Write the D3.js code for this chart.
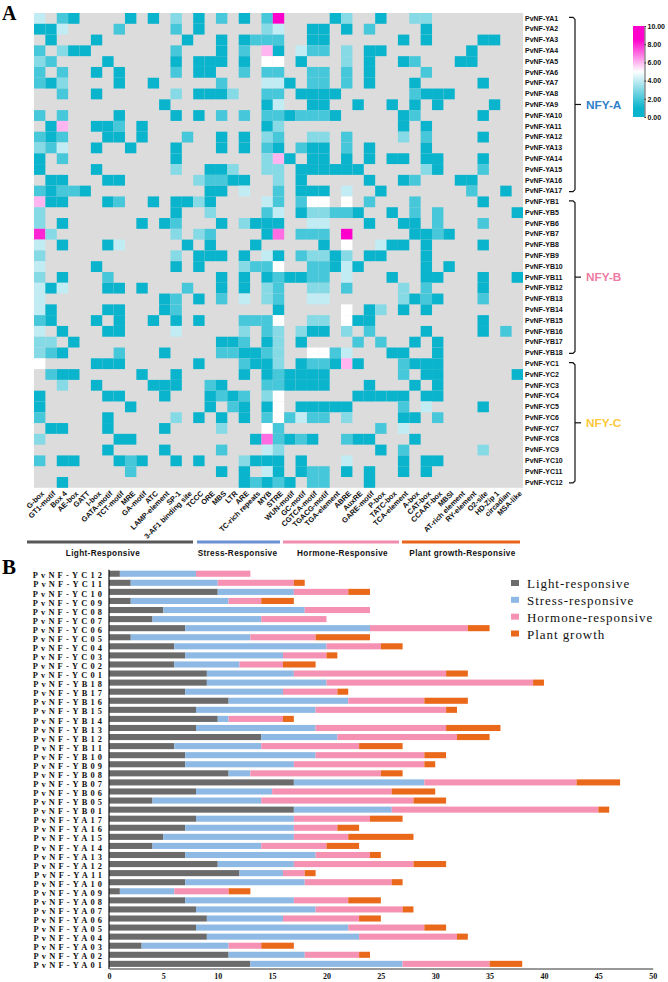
<!DOCTYPE html>
<html><head><meta charset="utf-8">
<script src="https://cdn.jsdelivr.net/npm/d3@7/dist/d3.min.js"></script>
<style>html,body{margin:0;padding:0;background:#fff}svg{display:block}</style>
</head><body><svg id="c" width="668" height="982"></svg>
<script>
const motifs = ["G-box","GT1-motif","Box 4","AE-box","GATT","I-box","GATA-motif","TCT-motif","MRE","GA-motif","ATC","LAMP-element","SP-1","3-AF1 binding site","TCCC","ORE","MBS","LTR","ARE","TC-rich repeats","MYB","STRE","WUN-motif","GC-motif","CGTCA-motif","TGACG-motif","TGA-element","ABRE","AuxRE","GARE-motif","P-box","TATC-box","TCA-element","A-box","CAT-box","CCAAT-box","MBSI","AT-rich element","RY-element","O2-site","HD-Zip 1","circadian","MSA-like"];
const heatGenes = ["YA1","YA2","YA3","YA4","YA5","YA6","YA7","YA8","YA9","YA10","YA11","YA12","YA13","YA14","YA15","YA16","YA17","YB1","YB5","YB6","YB7","YB8","YB9","YB10","YB11","YB12","YB13","YB14","YB15","YB16","YB17","YB18","YC1","YC2","YC3","YC4","YC5","YC6","YC7","YC8","YC9","YC10","YC11","YC12"].map(d=>"PvNF-"+d);
// sparse cell values per gene: {motif index: value}
const heatValues = [
{0:4,2:2,3:1,8:1,10:1,12:3,14:1,16:2,18:1,20:2,21:10,26:1,27:3,30:1,33:3,34:3},
{0:1,1:1,2:4,7:2,12:2,14:1,20:3,21:4,24:1,25:1,27:1,29:2,34:1},
{1:1,5:1,13:1,16:1,18:1,19:2,20:2,21:2,24:1,25:1,32:1,34:1,39:1,40:1},
{0:2,2:3,3:1,4:1,12:2,16:1,18:2,20:6,21:1,23:4,24:2,25:2,27:3,29:1,30:1,38:1},
{0:3,1:2,6:1,12:1,14:1,15:1,16:1,18:1,20:5,21:5,23:1,27:3,29:1,32:1,33:2,37:1,38:1},
{0:2,2:2,5:1,7:1,12:2,14:1,15:1,18:2,20:2,21:2,24:2,25:2,27:2,29:1,34:2},
{0:2,1:1,2:3,7:1,10:1,16:2,20:4,21:4,22:1,24:2,25:2,27:2,29:1,33:1,39:1},
{2:2,5:1,12:3,14:1,15:1,16:1,17:3,20:2,21:2,23:1,24:1,25:1,26:1,33:2,34:1,35:1,36:1},
{11:1,20:1,21:4,24:1,25:1,28:1,31:1,33:1,35:1,40:1},
{0:2,2:2,7:1,12:1,14:1,16:2,18:2,20:2,21:2,22:1,23:2,24:2,25:2,26:1,32:1,33:2,39:1},
{1:1,2:6,5:1,6:1,7:2,9:1,20:1,21:3,32:1,34:1},
{0:2,1:1,2:2,6:1,7:1,9:1,13:2,16:1,18:1,20:3,21:2,24:3,25:3,27:2,32:3,34:2,39:1},
{0:3,1:2,2:4,5:1,8:1,12:1,16:1,18:1,20:2,21:1,23:2,24:1,25:1,27:2,29:1,34:1},
{0:1,2:2,12:1,20:3,21:6,22:1,24:1,25:1,27:1,29:1,31:1,32:1,34:1,35:1,39:1},
{0:1,5:1,12:3,15:1,16:1,17:3,20:3,21:3,23:1,24:1,25:1,26:1,27:1,28:1,34:3,35:1,39:2},
{1:1,2:1,6:1,7:1,14:3,15:2,16:2,17:1,18:1,21:3,23:1,29:1,32:1,33:2,37:1,38:1},
{0:2,1:1,2:2,3:2,4:1,15:1,16:1,18:4,21:2,23:1,24:1,25:1,27:4,30:1,38:2,41:1},
{0:6,1:1,2:1,6:1,7:2,10:1,12:1,13:1,14:3,15:1,20:4,21:2,23:2,24:5,25:5,27:5,29:2,33:2,39:1},
{0:3,12:1,15:3,20:2,21:4,23:1,24:3,25:3,26:2,27:2,28:1,31:1,33:2,35:2,42:1},
{0:3,2:1,9:1,11:1,12:2,16:1,18:3,19:1,20:1,21:1,24:4,25:4,29:1,32:1,33:1,35:2,39:2},
{0:8,1:3,12:3,14:3,15:2,20:1,21:7,23:2,24:2,25:2,27:10,33:1,34:1,35:2,36:1},
{0:4,2:1,6:1,7:4,13:1,15:1,19:1,25:1,27:5,30:4,31:1,32:1,34:1,39:1},
{0:3,12:3,14:1,15:1,16:1,18:1,20:4,21:1,23:2,24:3,25:3,26:1,27:3,29:1,30:1,34:1},
{0:4,5:1,12:1,14:1,18:3,19:2,20:2,21:5,24:2,25:2,26:1,27:4,28:1,34:1,36:1},
{0:3,2:1,6:2,16:1,18:1,20:1,21:2,22:1,23:1,24:2,25:2,27:4,31:1,34:1,35:1,39:1,42:1},
{0:4,1:1,2:4,6:1,7:1,9:1,13:2,16:1,18:1,20:3,21:2,24:3,25:3,27:2,32:3,34:2,39:1},
{0:4,11:1,12:2,14:1,16:2,18:4,20:3,21:2,24:4,25:4,32:3,33:1,34:2,35:1,39:2},
{0:4,1:1,6:1,7:1,11:1,12:2,21:1,27:5,29:1,30:3,32:1,34:1},
{0:2,1:1,5:1,7:1,10:1,12:1,14:1,18:2,19:2,20:2,21:5,24:3,25:3,27:5,28:1,29:1,39:1},
{0:4,2:1,6:1,7:1,12:4,18:3,20:2,21:3,23:3,24:1,25:1,27:3,29:2,34:1,39:1,41:2},
{0:3,1:3,3:1,16:1,17:1,18:2,20:1,21:3,23:1,28:2,30:2,33:1,35:1},
{0:3,1:2,2:1,7:2,11:1,16:2,17:2,18:1,19:1,20:2,21:3,24:5,25:5,26:2,27:4,31:1,32:1,35:1},
{0:5,5:1,6:1,7:1,14:1,18:2,19:1,20:1,21:3,23:1,24:2,25:2,26:1,27:6,28:1,32:2,33:1,34:1,35:1},
{1:2,2:1,3:1,9:1,12:1,18:1,20:1,21:2,22:1,23:1,24:1,25:1,32:2,34:1,35:1,42:1},
{2:3,5:1,10:1,11:1,12:1,15:2,16:1,20:2,21:2,22:1,23:1,24:1,25:1,29:1,33:1,35:1},
{0:1,6:1,7:1,11:1,15:1,16:2,17:1,18:2,20:3,21:5,28:1,29:1,30:1,31:1,32:1,34:1,35:1},
{0:1,8:1,15:1,17:2,18:1,20:1,21:5,23:1,24:1,25:1,26:1,27:1,32:2,34:4,39:1},
{0:2,6:1,12:3,14:1,16:1,18:1,20:2,21:5,22:2,23:4,24:2,25:2,27:3,32:1,33:1,35:2},
{1:1,2:1,6:1,11:1,16:3,20:5,21:2,30:2,32:4},
{0:3,7:1,8:1,19:1,20:7,21:2,22:1,23:2,24:1,27:2,28:1,29:1,33:1},
{6:1,11:1,16:2,20:4,21:3,30:1,32:2,39:3},
{0:2,2:1,3:1,7:1,8:2,9:1,12:1,14:1,18:3,19:1,20:1,21:1,23:1,27:4,32:1,34:1,35:1},
{8:2,16:1,18:1,20:4,21:1,23:1,24:2,25:2,27:1,29:1,32:1,34:1},
{2:1,18:1,19:2,20:1,21:2,22:1,24:2,25:2,29:1}
];
const colorStops = [0,1,5,8.5,10];
const colorRange = ["#0ab4cd","#0ab4cd","#ffffff","#ff00cc","#ff00cc"];
const legendTicks = [0,2,4,6,8,10];

const barGenes = ["YC12","YC11","YC10","YC09","YC08","YC07","YC06","YC05","YC04","YC03","YC02","YC01","YB18","YB17","YB16","YB15","YB14","YB13","YB12","YB11","YB10","YB09","YB08","YB07","YB06","YB05","YB01","YA17","YA16","YA15","YA14","YA13","YA12","YA11","YA10","YA09","YA08","YA07","YA06","YA05","YA04","YA03","YA02","YA01"].map(d=>"PvNF-"+d);
const lightVals   = [1,2,10,2,5,4,7,2,6,7,6,9,9,7,11,8,10,8,14,6,7,7,11,17,8,4,17,8,7,5,4,7,10,12,7,1,7,8,9,8,9,3,11,13];
const stressVals  = [7,8,7,9,13,10,17,11,14,9,6,8,11,9,11,11,1,11,7,8,12,10,2,12,7,10,9,9,10,12,10,12,7,4,11,5,10,11,7,14,14,8,7,14];
const hormoneVals = [5,7,5,3,6,6,9,6,5,4,4,14,19,5,7,12,5,12,11,9,10,12,12,14,11,14,19,7,4,5,6,5,11,2,8,5,5,8,7,7,9,3,5,8];
const growthVals  = [0,1,2,3,0,0,2,5,2,1,3,2,1,1,4,1,1,5,3,4,2,1,2,4,4,3,1,3,2,6,3,1,3,1,1,2,3,1,2,2,1,3,1,3];
const barSeries = ["Light-responsive","Stress-responsive","Hormone-responsive","Plant growth"];
const barColors = ["#6b6b6b","#8db9e4","#f591b2","#e9681a"];
const barTicks = [0,5,10,15,20,25,30,35,40,45,50];

const groupNames = ["Light-Responsive","Stress-Responsive","Hormone-Responsive","Plant growth-Responsive"];
const groupColors = ["#585858","#6a8fd2","#f08cac","#e8641a"];
const familyNames = ["NFY-A","NFY-B","NFY-C"];
const familyColors = ["#2f7fc8","#f07ba2","#fcc83a"];
const familyFirst = ["PvNF-YA1","PvNF-YB1","PvNF-YC1"];
const familyLast = ["PvNF-YA17","PvNF-YB18","PvNF-YC12"];

const svg = d3.select("#c");
const SANS = "'Liberation Sans',Arial,sans-serif", SERIF = "'Liberation Serif','Times New Roman',serif";
const letter = (t,x,y,s)=>svg.append("text").attr("x",x).attr("y",y).attr("font-family",SERIF).attr("font-weight",700).attr("font-size",s).attr("fill","#000").text(t);
letter("A",2,20,20); letter("B",2,574,21);

/* ---------- heatmap ---------- */
const hx = d3.scaleBand().domain(motifs).range([34,523]);
const hy = d3.scaleBand().domain(heatGenes).range([13,487.8]);
const hcolor = d3.scaleLinear().domain(colorStops).range(colorRange).clamp(true);
const heat = svg.append("g");
heat.append("rect").attr("x",hx.range()[0]).attr("y",hy.range()[0])
  .attr("width",hx.range()[1]-hx.range()[0]).attr("height",hy.range()[1]-hy.range()[0]).attr("fill","#dcdcdc");
const cells = heatValues.flatMap((row,r)=>Object.entries(row).map(([c,v])=>({gene:heatGenes[r],motif:motifs[+c],v})));
heat.selectAll("rect.cell").data(cells).join("rect").attr("class","cell")
  .attr("x",d=>hx(d.motif)).attr("y",d=>hy(d.gene)).attr("width",hx.bandwidth()).attr("height",hy.bandwidth())
  .attr("fill",d=>hcolor(d.v));

const rowAxis = svg.append("g").attr("transform","translate(523,0)").call(d3.axisRight(hy).tickSize(0).tickPadding(2));
rowAxis.select(".domain").remove();
rowAxis.selectAll("text").attr("font-family",SANS).attr("font-weight",700).attr("font-size",7).attr("fill","#111");

const colAxis = svg.append("g").attr("transform","translate(0,488)").call(d3.axisBottom(hx).tickSize(0));
colAxis.select(".domain").remove();
colAxis.selectAll("text").attr("font-family",SANS).attr("font-weight",700).attr("font-size",7.4).attr("fill","#111")
  .attr("text-anchor","end").attr("y",0).attr("dy",0).attr("transform","translate(5,6) rotate(-45)");

/* column group bars */
const groupSpans = [[27,193],[197,280],[283,399],[402,520]];
const groupLabelX = [103,237.5,342.5,462.5];
groupNames.forEach((n,i)=>{
  svg.append("rect").attr("x",groupSpans[i][0]).attr("y",540.5).attr("width",groupSpans[i][1]-groupSpans[i][0]).attr("height",3).attr("fill",groupColors[i]);
  svg.append("text").attr("x",groupLabelX[i]).attr("y",556).attr("text-anchor","middle").attr("font-family",SANS).attr("font-weight",700)
    .attr("font-size",8.2).attr("letter-spacing",0.35).attr("fill","#111").text(n);
});

/* family brackets */
familyNames.forEach((n,i)=>{
  const y0 = hy(familyFirst[i])+hy.bandwidth()/2-1, y1 = hy(familyLast[i])+hy.bandwidth()/2+0.5, ym=(y0+y1)/2;
  svg.append("path").attr("fill","none").attr("stroke","#111").attr("stroke-width",1.2)
    .attr("d",d3.line()([[569,y0],[573,y0],[575,y0+2],[575,y1-2],[573,y1],[569,y1]]));
  svg.append("line").attr("x1",575).attr("x2",581).attr("y1",ym).attr("y2",ym).attr("stroke","#111").attr("stroke-width",1.2);
  svg.append("text").attr("x",586).attr("y",ym).attr("dy","0.36em").attr("font-family",SANS).attr("font-weight",700).attr("font-size",11.8)
    .attr("fill",familyColors[i]).text(n);
});

/* colour legend */
const ly = d3.scaleLinear().domain([0,10]).range([117,26]);
const defs = svg.append("defs");
const grad = defs.append("linearGradient").attr("id","cb").attr("x1",0).attr("x2",0).attr("y1",1).attr("y2",0);
colorStops.forEach((s,i)=>grad.append("stop").attr("offset",s/10).attr("stop-color",colorRange[i]));
svg.append("rect").attr("x",633).attr("y",ly(10)).attr("width",11.5).attr("height",ly(0)-ly(10)).attr("fill","url(#cb)");
const lAxis = svg.append("g").attr("transform","translate(644.5,0)")
  .call(d3.axisRight(ly).tickValues(legendTicks).tickFormat(d3.format(".2f")).tickSize(1.5).tickPadding(1.5));
lAxis.select(".domain").attr("stroke","#333").attr("stroke-width",0.8);
lAxis.selectAll("line").attr("stroke","#333");
lAxis.selectAll("text").attr("font-family",SANS).attr("font-weight",700).attr("font-size",7).attr("fill","#111");

/* ---------- stacked bars ---------- */
const bx = d3.scaleLinear().domain([0,50]).range([109,652.7]);
const by = d3.scaleBand().domain(barGenes).range([569.2,968.4]).paddingInner(0.33).paddingOuter(0.165);
const barRows = barGenes.map((g,i)=>({gene:g,s0:lightVals[i],s1:stressVals[i],s2:hormoneVals[i],s3:growthVals[i]}));
const stack = d3.stack().keys(["s0","s1","s2","s3"])(barRows);
svg.append("g").selectAll("g").data(stack).join("g").attr("fill",(d,i)=>barColors[i])
  .selectAll("rect").data(d=>d).join("rect")
  .attr("x",d=>bx(d[0])).attr("width",d=>bx(d[1])-bx(d[0]))
  .attr("y",d=>by(d.data.gene)).attr("height",by.bandwidth());

const bLeft = svg.append("g").attr("transform","translate(108.5,0)").call(d3.axisLeft(by).tickSize(0).tickPadding(3.3));
bLeft.select(".domain").attr("stroke","#111").attr("stroke-width",1.2);
bLeft.selectAll("text").attr("font-family",SERIF).attr("font-weight",700).attr("font-size",8.4).attr("letter-spacing",3.2)
  .attr("dy","0.55em").attr("fill","#111");
const bBottom = svg.append("g").attr("transform","translate(0,968.5)").call(d3.axisBottom(bx).tickValues(barTicks).tickSize(0).tickPadding(5));
bBottom.select(".domain").attr("stroke","#333").attr("stroke-width",1);
bBottom.selectAll("text").attr("font-family",SERIF).attr("font-weight",700).attr("font-size",8).attr("fill","#111");

/* bar legend */
const legY = d3.scalePoint().domain(barSeries).range([583,633.5]);
barSeries.forEach((n,i)=>{
  svg.append("rect").attr("x",511).attr("y",legY(n)-3).attr("width",8).attr("height",6).attr("fill",barColors[i]);
  svg.append("text").attr("x",527).attr("y",legY(n)+5).attr("font-family",SERIF).attr("font-size",13).attr("letter-spacing",0.95).attr("fill","#111").text(n);
});
</script></body></html>
